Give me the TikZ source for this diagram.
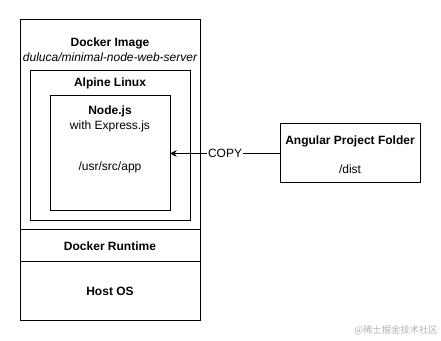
\documentclass[tikz,border=0pt]{standalone}
\usepackage{fontspec}
\setmainfont{Liberation Sans}
\newfontfamily\cjk{Noto Sans CJK SC}
\usetikzlibrary{arrows.meta, positioning}

\begin{document}
\begin{tikzpicture}[
    x=0.75pt, y=-0.75pt,
    font=\fontsize{9}{11}\selectfont,
    box/.style={draw, line width=0.75pt, inner sep=0pt, outer sep=0pt},
    lbl/.style={inner sep=0pt, align=center},
    arr/.style={-{Stealth[length=5pt, width=5pt]}, line width=0.75pt},
]
\useasboundingbox (0,0) rectangle (441,341);

% stacked layers
\node[box, minimum width=135pt, minimum height=157.5pt] (img) at (110,125) {};
\node[box, minimum width=135pt, minimum height=23.25pt] (rt) at (110,245.5) {};
\node[box, minimum width=135pt, minimum height=44.25pt] (host) at (110,290.5) {};
\node[box, minimum width=120pt, minimum height=112.5pt] (alp) at (110,146) {};
\node[box, minimum width=90pt, minimum height=86.25pt] (njs) at (110,153.5) {};
\node[box, minimum width=105pt, minimum height=44.25pt] (ang) at (350,153.5) {};

% texts
\node[lbl, font=\fontsize{9}{11}\selectfont\bfseries] (imgT) at (110,43) {Docker Image};
\node[lbl, font=\fontsize{9}{11}\selectfont\itshape] (imgS) at (110,57) {duluca/minimal-node-web-server};
\node[lbl, font=\fontsize{9}{11}\selectfont\bfseries] (alpT) at (110,83) {Alpine Linux};
\node[lbl, font=\fontsize{9}{11}\selectfont\bfseries] (njsT) at (110,111) {Node.js};
\node[lbl] (njsS) at (110,126) {with Express.js};
\node[lbl] (njsP) at (110,167) {/usr/src/app};
\node[lbl, font=\fontsize{9}{11}\selectfont\bfseries] (rtT) at (110,246) {Docker Runtime};
\node[lbl, font=\fontsize{9}{11}\selectfont\bfseries] (hostT) at (110,291) {Host OS};
\node[lbl, font=\fontsize{9}{11}\selectfont\bfseries] (angT) at (350,141) {Angular Project Folder};
\node[lbl] (angP) at (350,169) {/dist};

\draw[arr] (ang.west) -- node[fill=white, inner sep=1pt] {COPY} (njs.east);

\node[lbl, text=black!30, font=\cjk\fontsize{7}{8}\selectfont] (wm) at (396,330) {@稀土掘金技术社区};
\end{tikzpicture}
\end{document}
